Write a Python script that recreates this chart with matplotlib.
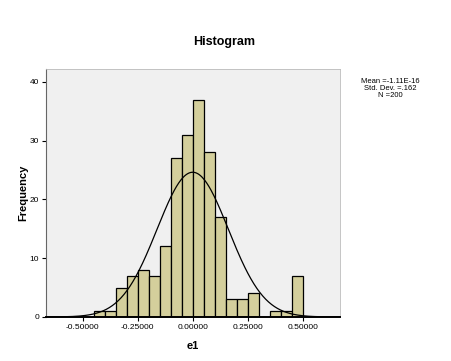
import numpy as np
import matplotlib
matplotlib.use("Agg")
import matplotlib.pyplot as plt

plt.rcParams['font.family'] = ['Liberation Sans', 'DejaVu Sans']

# --- data ---
bin_edges = np.round(np.arange(-0.45, 0.5001, 0.05), 2)
counts = [1, 1, 5, 7, 8, 7, 12, 27, 31, 37, 28, 17, 3, 3, 4, 0, 1, 1, 7]
x_ticks = [-0.5, -0.25, 0.0, 0.25, 0.5]
x_tick_labels = ["-0.50000", "-0.25000", "0.00000", "0.25000", "0.50000"]
y_ticks = [0, 10, 20, 30, 40]
n_total = 200
fit_mean = 0.0
fit_sd = 0.162
stats_text = "Mean =-1.11E-16\nStd. Dev. =.162\nN =200"

fig = plt.figure(figsize=(4.51, 3.61), dpi=100, facecolor='white')
ax = fig.add_axes([0.102, 0.122, 0.652, 0.687])
ax.set_facecolor('#F0F0F0')

widths = np.diff(bin_edges)
ax.bar(bin_edges[:-1], counts, width=widths, align='edge',
       color='#D4CF9C', edgecolor='black', linewidth=0.9, zorder=2)

# normal curve fitted with the stated mean / sd
xs = np.linspace(-0.667, 0.67, 400)
bw = widths[0]
ys = n_total * bw / (np.sqrt(2 * np.pi) * fit_sd) * np.exp(-0.5 * ((xs - fit_mean) / fit_sd) ** 2)
ax.plot(xs, ys, color='black', linewidth=0.9, zorder=3)

ax.set_xlim(-0.667, 0.67)
ax.set_ylim(0, 42.2)
ax.set_xticks(x_ticks)
ax.set_xticklabels(x_tick_labels)
ax.set_yticks(y_ticks)
ax.tick_params(axis='both', direction='out', length=3, width=0.8, labelsize=6, pad=2)

for side in ['top', 'right']:
    ax.spines[side].set_color('#BBBBBB')
    ax.spines[side].set_linewidth(0.6)
ax.spines['left'].set_color('#666666')
ax.spines['left'].set_linewidth(0.8)
ax.spines['bottom'].set_color('black')
ax.spines['bottom'].set_linewidth(1.4)
ax.spines['bottom'].set_zorder(4)

ax.set_xlabel("e1", fontsize=8, fontweight='bold', labelpad=7)
ax.set_ylabel("Frequency", fontsize=8, fontweight='bold', labelpad=1)

fig.text(0.497, 0.884, "Histogram", ha='center', va='center', fontsize=9, fontweight='bold')
fig.text(0.865, 0.755, stats_text, ha='center', va='center', multialignment='center',
         fontsize=5.5, linespacing=1.05)

fig.savefig("out.png", dpi=100, facecolor='white')
